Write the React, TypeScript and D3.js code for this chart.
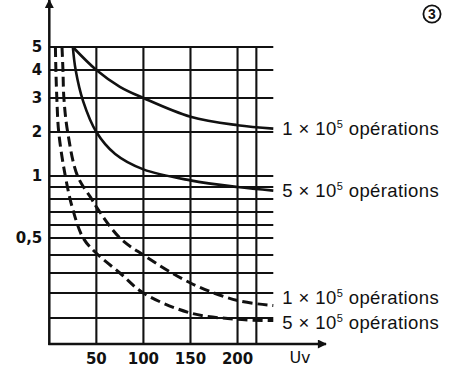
import { useEffect, useRef } from 'react';
import * as d3 from 'd3';

const width = 452;
const height = 372;

// axis values
const xTickLabels = [50, 100, 150, 200];
const xGridValues = [50, 100, 150, 200, 220];
const xMax = 238;

const yTickLabels = [5, 4, 3, 2, 1, 0.5];
const yGridValues = [0.1, 0.2, 0.3, 0.4, 0.5, 0.6, 0.7, 0.8, 0.9, 1, 2, 3, 4, 5];

// curves: Uv (V) -> current (A)
const solid1Volts = [25, 50, 75, 100, 150, 200, 238];
const solid1Amps = [5, 4, 3.4, 3, 2.45, 2.2, 2.1];

const solid5Volts = [25, 28, 36, 50, 70, 100, 150, 200, 238];
const solid5Amps = [5, 4, 2.9, 2, 1.5, 1.15, 0.96, 0.9, 0.87];

const dashed1Volts = [13.5, 14.5, 15.5, 19.5, 30, 45, 50, 75, 100, 150, 200, 238];
const dashed1Amps = [5, 4, 3, 2, 1, 0.8, 0.74, 0.5, 0.4, 0.25, 0.17, 0.15];

const dashed5Volts = [6.5, 7, 8, 10, 17, 25, 36, 50, 75, 100, 150, 200, 238];
const dashed5Amps = [5, 4, 3, 2, 1, 0.72, 0.5, 0.41, 0.3, 0.2, 0.12, 0.095, 0.09];

const curveLabels = ['1', '5', '1', '5'];

type Pt = { v: number; a: number };

const zip = (vs: number[], as: number[]): Pt[] => vs.map((v, i) => ({ v, a: as[i] }));

export default function App() {
    const ref = useRef<SVGSVGElement>(null);

    useEffect(() => {
        const svg = d3.select(ref.current);
        svg.selectAll('*').remove();

        const left = 49.3;
        const top = 47;
        const bottom = 344;

        const x = d3.scaleLinear().domain([0, xMax]).range([left, 273.3]);

        // the printed scale is neither linear nor log: map the grid values piecewise
        const yDomain = [0, 0.1, 0.2, 0.3, 0.4, 0.5, 0.6, 0.7, 0.8, 0.9, 1, 2, 3, 4, 5];
        const yStops = [1, 0.9125, 0.8283, 0.7609, 0.7003, 0.6431, 0.5993, 0.5556, 0.5118, 0.4714, 0.4343, 0.2862, 0.1717, 0.0774, 0];
        const y = d3
            .scaleLinear()
            .domain(yDomain)
            .range(yStops.map((f) => top + f * (bottom - top)));

        const ink = '#111';

        // arrow head
        svg.append('defs')
            .append('marker')
            .attr('id', 'arr')
            .attr('viewBox', '0 0 10 10')
            .attr('refX', 9)
            .attr('refY', 5)
            .attr('markerWidth', 11)
            .attr('markerHeight', 9)
            .attr('markerUnits', 'userSpaceOnUse')
            .attr('orient', 'auto')
            .append('path')
            .attr('d', 'M0,0L10,5L0,10Z')
            .attr('fill', ink);

        const grid = svg.append('g');

        grid.selectAll('line.h')
            .data(yGridValues)
            .join('line')
            .attr('x1', x(0))
            .attr('x2', x(xMax))
            .attr('y1', (d) => y(d))
            .attr('y2', (d) => y(d))
            .attr('stroke', ink)
            .attr('stroke-width', 1.9);

        grid.selectAll('line.v')
            .data(xGridValues)
            .join('line')
            .attr('x1', (d) => x(d))
            .attr('x2', (d) => x(d))
            .attr('y1', y(5))
            .attr('y2', y(0))
            .attr('stroke', ink)
            .attr('stroke-width', 2.1);

        // axes
        svg.append('line')
            .attr('x1', x(0))
            .attr('x2', x(0))
            .attr('y1', y(0) + 1)
            .attr('y2', 0)
            .attr('stroke', ink)
            .attr('stroke-width', 2.5)
            .attr('marker-end', 'url(#arr)');

        svg.append('line')
            .attr('x1', x(0) - 1)
            .attr('x2', 326)
            .attr('y1', y(0))
            .attr('y2', y(0))
            .attr('stroke', ink)
            .attr('stroke-width', 2.5)
            .attr('marker-end', 'url(#arr)');

        // tick labels
        const tickFont = '"DejaVu Sans", sans-serif';
        svg.append('g')
            .selectAll('text')
            .data(yTickLabels)
            .join('text')
            .attr('x', x(0) - 7)
            .attr('y', (d) => y(d))
            .attr('dy', '0.36em')
            .attr('text-anchor', 'end')
            .attr('font-family', tickFont)
            .attr('font-weight', 'bold')
            .attr('font-size', 15)
            .attr('fill', ink)
            .text((d) => String(d).replace('.', ','));

        svg.append('g')
            .selectAll('text')
            .data(xTickLabels)
            .join('text')
            .attr('x', (d) => x(d))
            .attr('y', y(0) + 20)
            .attr('text-anchor', 'middle')
            .attr('font-family', tickFont)
            .attr('font-weight', 'bold')
            .attr('font-size', 15)
            .attr('fill', ink)
            .text((d) => d);

        svg.append('text')
            .attr('x', 300)
            .attr('y', y(0) + 19)
            .attr('text-anchor', 'middle')
            .attr('font-family', tickFont)
            .attr('font-size', 16)
            .attr('fill', ink)
            .text('Uv');

        // circled figure number
        const badge = svg.append('g').attr('transform', 'translate(432,14)');
        badge.append('circle').attr('r', 8.6).attr('fill', 'none').attr('stroke', ink).attr('stroke-width', 1.8);
        badge.append('text')
            .attr('dy', '0.36em')
            .attr('text-anchor', 'middle')
            .attr('font-family', '"Liberation Sans", Arial, sans-serif')
            .attr('font-weight', 'bold')
            .attr('font-size', 14)
            .attr('fill', ink)
            .text('3');

        // curves
        const line = d3
            .line<Pt>()
            .x((d) => x(d.v))
            .y((d) => y(d.a))
            .curve(d3.curveCatmullRom.alpha(0.5));

        const series = [
            { pts: zip(solid1Volts, solid1Amps), dash: null, dy: 0 },
            { pts: zip(solid5Volts, solid5Amps), dash: null, dy: 0 },
            { pts: zip(dashed1Volts, dashed1Amps), dash: '10 5', dy: -8 },
            { pts: zip(dashed5Volts, dashed5Amps), dash: '10 5', dy: 2 }
        ];

        series.forEach((s, i) => {
            svg.append('path')
                .attr('d', line(s.pts))
                .attr('fill', 'none')
                .attr('stroke', ink)
                .attr('stroke-width', s.dash ? 3 : 2.6)
                .attr('stroke-dasharray', s.dash);

            const last = s.pts[s.pts.length - 1];
            const t = svg
                .append('text')
                .attr('x', x(last.v) + 9)
                .attr('y', y(last.a) + s.dy)
                .attr('dy', '0.36em')
                .attr('font-family', '"Liberation Sans", Arial, sans-serif')
                .attr('font-size', 18.5)
                .attr('letter-spacing', 0.4)
                .attr('fill', ink);
            t.append('tspan').text(`${curveLabels[i]} × 10`);
            t.append('tspan').attr('font-size', 11).attr('dy', -7).text('5');
            t.append('tspan').attr('dy', 7).text(' opérations');
        });
    }, []);

    return (
        <svg
            ref={ref}
            width={width}
            height={height}
            style={{ position: 'absolute', left: 0, top: 0, background: '#fff' }}
        />
    );
}
